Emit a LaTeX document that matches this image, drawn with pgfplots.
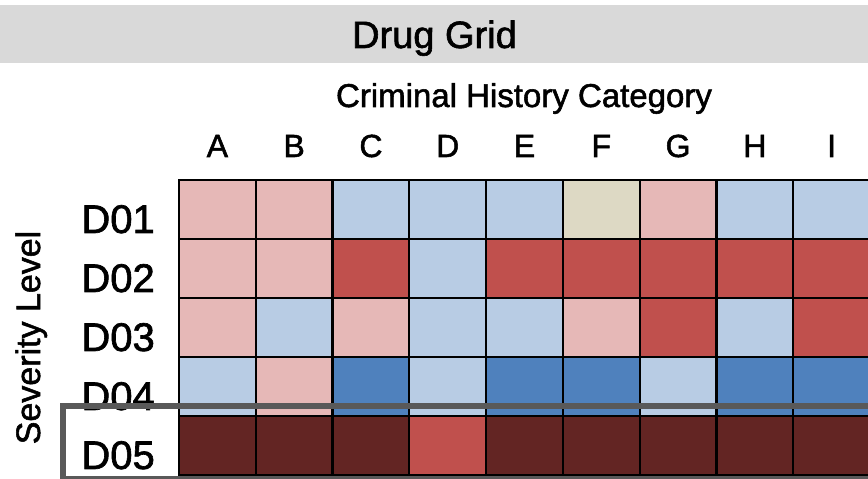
\documentclass[border=0pt]{standalone}
\usepackage{pgfplots}
\pgfplotsset{compat=1.18}
\usepackage{fontspec}
\setmainfont{Liberation Sans}
\newfontfamily\heavy{Liberation Sans}[FakeBold=1.6]
\definecolor{bandgray}{RGB}{217,217,217}
\definecolor{boxgray}{RGB}{89,89,89}
\begin{document}
\begin{tikzpicture}[x=1pt,y=1pt]
\fill[bandgray] (0,416) rectangle (868,474);
\node[anchor=base,inner sep=0pt,font=\heavy\fontsize{38}{40}\selectfont] at (434.5,431) {Drug Grid};
\node[anchor=base,inner sep=0pt,font=\heavy\fontsize{33}{35}\selectfont] at (524,372) {Criminal History Category};
\node[anchor=base,inner sep=0pt,rotate=90,font=\heavy\fontsize{34}{36}\selectfont] at (40,141.5) {Severity Level};
\begin{axis}[
  at={(179pt,4pt)}, anchor=south west, scale only axis,
  width=691pt, height=295pt,
  xmin=-0.5, xmax=8.5, ymin=-0.5, ymax=4.5,
  xtick={0,...,8}, xticklabels={A,B,C,D,E,F,G,H,I},
  ytick={0,...,4}, yticklabels={D05,D04,D03,D02,D01},
  xticklabel pos=top,
  major tick length=0pt, minor tick length=0pt,
  tick style={draw=none},
  xticklabel style={anchor=base, inner sep=0pt, yshift=23pt, font=\heavy\fontsize{32}{34}\selectfont},
  yticklabel style={anchor=base east, inner sep=0pt, xshift=-24pt, yshift=-23.5pt, font=\heavy\fontsize{40}{42}\selectfont},
  minor xtick={-0.5,0.5,...,8.5}, minor ytick={-0.5,0.5,...,4.5},
  grid=minor, minor grid style={black, line width=2.3pt},
  axis line style={black, line width=2.3pt},
  axis on top,
  colormap={cats}{rgb255=(230,184,183) rgb255=(184,204,228) rgb255=(221,217,196) rgb255=(192,80,77) rgb255=(79,129,189) rgb255=(99,37,35)},
  colormap access=direct,
]
\addplot[matrix plot*, mesh/cols=9, point meta=explicit] table[meta=c] {
x y c
0 0 5
1 0 5
2 0 5
3 0 3
4 0 5
5 0 5
6 0 5
7 0 5
8 0 5
0 1 1
1 1 0
2 1 4
3 1 1
4 1 4
5 1 4
6 1 1
7 1 4
8 1 4
0 2 0
1 2 1
2 2 0
3 2 1
4 2 1
5 2 0
6 2 3
7 2 1
8 2 3
0 3 0
1 3 0
2 3 3
3 3 1
4 3 3
5 3 3
6 3 3
7 3 3
8 3 3
0 4 0
1 4 0
2 4 1
3 4 1
4 4 1
5 4 2
6 4 0
7 4 1
8 4 1
};
\end{axis}
\draw[boxgray, line width=6pt] (63,72.5) rectangle (900,-0.5);
\pgfresetboundingbox
\useasboundingbox (0,0) rectangle (868,479);
\end{tikzpicture}
\end{document}
